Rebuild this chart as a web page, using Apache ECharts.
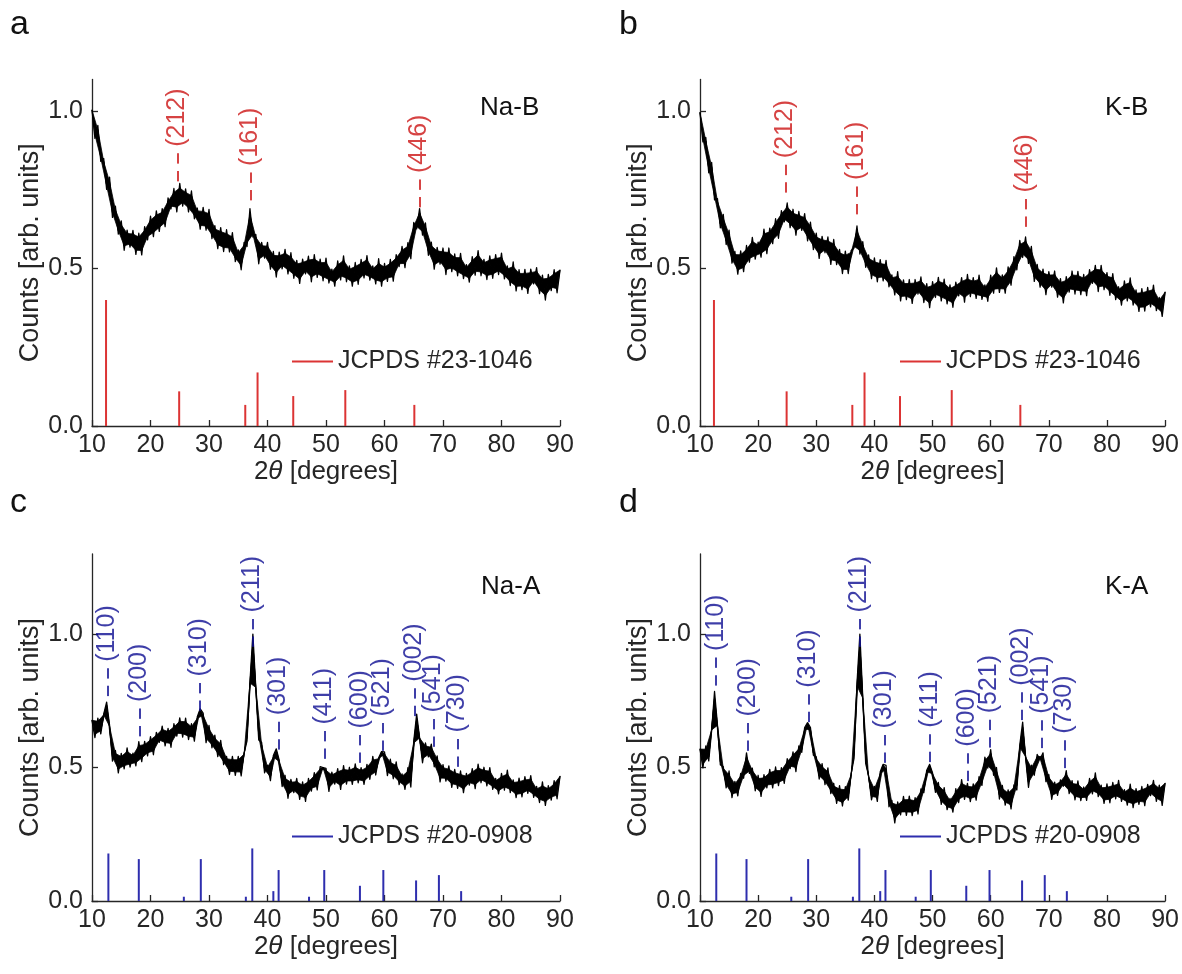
<!DOCTYPE html>
<html><head><meta charset="utf-8">
<script src="https://cdn.jsdelivr.net/npm/echarts@6/dist/echarts.min.js"></script>
<style>html,body{margin:0;padding:0;background:#fff}#c{width:1182px;height:974px}</style>
</head><body><div id="c"></div>
<script>
// ---- DATA ----
const twoTheta = [10,10.5,11,11.5,12,12.5,13,13.5,14,14.5,15,15.5,16,16.5,17,17.5,18,18.5,19,19.5,
20,20.5,21,21.5,22,22.5,23,23.5,24,24.5,25,25.5,26,26.5,27,27.5,28,28.5,29,29.5,
30,30.5,31,31.5,32,32.5,33,33.5,34,34.5,35,35.5,36,36.5,37,37.5,38,38.5,39,39.5,
40,40.5,41,41.5,42,42.5,43,43.5,44,44.5,45,45.5,46,46.5,47,47.5,48,48.5,49,49.5,
50,50.5,51,51.5,52,52.5,53,53.5,54,54.5,55,55.5,56,56.5,57,57.5,58,58.5,59,59.5,
60,60.5,61,61.5,62,62.5,63,63.5,64,64.5,65,65.5,66,66.5,67,67.5,68,68.5,69,69.5,
70,70.5,71,71.5,72,72.5,73,73.5,74,74.5,75,75.5,76,76.5,77,77.5,78,78.5,79,79.5,
80,80.5,81,81.5,82,82.5,83,83.5,84,84.5,85,85.5,86,86.5,87,87.5,88,88.5,89,89.5,90];

const countsNaB = [1.003,0.913,0.954,0.840,0.849,0.751,0.790,0.662,0.698,0.609,
0.651,0.558,0.622,0.568,0.621,0.545,0.612,0.543,0.633,0.591,
0.666,0.601,0.683,0.618,0.690,0.633,0.724,0.689,0.754,0.680,
0.770,0.698,0.753,0.680,0.746,0.658,0.692,0.625,0.694,0.622,
0.688,0.595,0.636,0.563,0.630,0.554,0.623,0.553,0.614,0.522,
0.559,0.496,0.583,0.570,0.690,0.600,0.608,0.515,0.583,0.533,
0.583,0.498,0.554,0.473,0.552,0.499,0.561,0.483,0.550,0.469,
0.526,0.453,0.530,0.483,0.539,0.458,0.544,0.472,0.530,0.461,
0.533,0.454,0.498,0.444,0.524,0.464,0.540,0.458,0.508,0.444,
0.519,0.450,0.529,0.470,0.541,0.463,0.508,0.451,0.531,0.444,
0.516,0.459,0.529,0.460,0.544,0.506,0.570,0.503,0.582,0.531,
0.646,0.626,0.690,0.606,0.645,0.542,0.584,0.498,0.567,0.514,
0.565,0.481,0.565,0.490,0.546,0.477,0.548,0.468,0.512,0.457,
0.538,0.479,0.557,0.477,0.529,0.465,0.540,0.469,0.544,0.481,
0.549,0.467,0.508,0.446,0.521,0.429,0.496,0.433,0.497,0.421,
0.498,0.451,0.503,0.420,0.479,0.400,0.481,0.430,0.496,0.423,
0.495];

const countsKB = [0.995,0.902,0.916,0.804,0.837,0.718,0.722,0.629,0.672,0.576,
0.622,0.517,0.554,0.482,0.556,0.490,0.573,0.520,0.599,0.530,
0.584,0.536,0.625,0.547,0.628,0.579,0.658,0.596,0.684,0.648,
0.708,0.630,0.688,0.606,0.681,0.621,0.674,0.588,0.647,0.560,
0.612,0.532,0.602,0.550,0.600,0.513,0.592,0.512,0.561,0.484,
0.555,0.484,0.557,0.565,0.635,0.546,0.585,0.504,0.543,0.468,
0.534,0.458,0.528,0.461,0.526,0.442,0.480,0.416,0.490,0.397,
0.464,0.401,0.465,0.389,0.465,0.419,0.473,0.392,0.452,0.376,
0.458,0.408,0.472,0.397,0.466,0.388,0.448,0.377,0.457,0.413,
0.471,0.393,0.481,0.411,0.471,0.405,0.479,0.402,0.448,0.396,
0.479,0.422,0.502,0.424,0.480,0.422,0.505,0.447,0.538,0.496,
0.589,0.535,0.600,0.516,0.570,0.459,0.513,0.441,0.498,0.417,
0.490,0.441,0.492,0.409,0.468,0.391,0.474,0.425,0.492,0.419,
0.491,0.417,0.481,0.414,0.496,0.453,0.510,0.427,0.510,0.433,
0.487,0.415,0.484,0.401,0.442,0.384,0.461,0.397,0.470,0.384,
0.432,0.364,0.436,0.365,0.440,0.378,0.447,0.366,0.408,0.348,
0.425];

const countsNaA = [0.677,0.612,0.685,0.626,0.700,0.745,0.659,0.524,0.564,0.480,
0.553,0.495,0.574,0.502,0.554,0.506,0.597,0.522,0.598,0.544,
0.616,0.548,0.632,0.594,0.655,0.581,0.647,0.576,0.664,0.618,
0.686,0.614,0.685,0.605,0.664,0.599,0.690,0.720,0.704,0.593,
0.658,0.574,0.621,0.541,0.602,0.511,0.542,0.474,0.542,0.471,
0.542,0.469,0.554,0.600,0.820,1.000,0.800,0.603,0.594,0.480,
0.509,0.451,0.545,0.570,0.528,0.429,0.471,0.385,0.456,0.406,
0.459,0.381,0.446,0.373,0.459,0.412,0.481,0.416,0.503,0.500,
0.497,0.411,0.483,0.438,0.496,0.418,0.507,0.438,0.501,0.437,
0.514,0.443,0.500,0.437,0.512,0.456,0.542,0.472,0.537,0.560,
0.559,0.470,0.531,0.458,0.521,0.436,0.476,0.418,0.500,0.427,
0.598,0.700,0.611,0.518,0.592,0.540,0.588,0.503,0.544,0.446,
0.511,0.449,0.506,0.426,0.493,0.422,0.487,0.406,0.478,0.434,
0.496,0.421,0.513,0.443,0.501,0.431,0.500,0.418,0.459,0.401,
0.478,0.415,0.490,0.406,0.454,0.387,0.460,0.390,0.466,0.403,
0.470,0.388,0.429,0.369,0.446,0.358,0.432,0.378,0.451,0.383,
0.467];

const countsKA = [0.569,0.499,0.581,0.525,0.638,0.785,0.660,0.510,0.504,0.424,
0.487,0.387,0.448,0.394,0.478,0.460,0.555,0.478,0.498,0.413,
0.471,0.392,0.473,0.424,0.493,0.424,0.502,0.432,0.500,0.441,
0.533,0.496,0.559,0.485,0.581,0.557,0.650,0.668,0.650,0.546,
0.540,0.457,0.515,0.436,0.499,0.402,0.441,0.366,0.432,0.356,
0.428,0.378,0.477,0.535,0.815,1.000,0.760,0.515,0.470,0.379,
0.429,0.373,0.484,0.512,0.508,0.353,0.377,0.293,0.371,0.323,
0.392,0.321,0.393,0.320,0.387,0.326,0.420,0.406,0.490,0.512,
0.480,0.407,0.444,0.362,0.425,0.342,0.384,0.333,0.421,0.369,
0.455,0.381,0.441,0.372,0.439,0.378,0.466,0.433,0.539,0.498,
0.567,0.471,0.500,0.382,0.433,0.359,0.416,0.345,0.435,0.416,
0.583,0.670,0.539,0.426,0.509,0.471,0.549,0.530,0.555,0.447,
0.474,0.381,0.445,0.396,0.454,0.430,0.488,0.402,0.451,0.379,
0.450,0.376,0.427,0.377,0.459,0.401,0.480,0.391,0.434,0.366,
0.439,0.368,0.444,0.383,0.452,0.373,0.417,0.359,0.438,0.350,
0.421,0.362,0.429,0.357,0.437,0.395,0.452,0.373,0.434,0.358,
0.441];

// reference patterns (stick lines)
const refBName = 'JCPDS #23-1046';
const refBPos = [12.4, 24.9, 36.2, 38.3, 44.4, 53.3, 65.1];
const refBInt = [0.40, 0.11, 0.067, 0.17, 0.095, 0.114, 0.067];
const refAName = 'JCPDS #20-0908';
const refAPos = [12.8, 18.0, 25.7, 28.6, 36.3, 37.4, 41.0, 41.9, 47.1, 49.7, 55.8, 59.8, 65.4, 69.3, 73.1];
const refAInt = [0.178, 0.157, 0.016, 0.157, 0.016, 0.197, 0.037, 0.116, 0.016, 0.116, 0.057, 0.116, 0.077, 0.097, 0.037];

// peak (hkl) annotations: label, angle, height where the annotation starts
const peakNamesB = ['(212)', '(161)', '(446)'];
const peakPosNaB = [24.6, 37.1, 66.0];
const peakYNaB   = [0.775, 0.714, 0.692];
const peakPosKB  = [24.7, 36.8, 66.0];
const peakYKB    = [0.739, 0.670, 0.630];
const peakNamesA = ['(110)', '(200)', '(310)', '(211)', '(301)', '(411)', '(600)', '(521)', '(002)', '(541)', '(730)'];
const peakPosNaA = [12.6, 18.0, 28.3, 37.35, 41.8, 49.7, 55.75, 59.6, 65.1, 68.3, 72.45];
const peakYNaA   = [0.765, 0.614, 0.710, 0.950, 0.565, 0.530, 0.515, 0.560, 0.690, 0.575, 0.500];
const peakPosKA  = [12.7, 18.2, 28.6, 37.3, 41.7, 49.5, 56.0, 59.8, 65.3, 68.7, 72.6];
const peakYKA    = [0.805, 0.560, 0.668, 0.950, 0.515, 0.518, 0.447, 0.572, 0.675, 0.570, 0.495];

const sampleNames = ['Na-B', 'K-B', 'Na-A', 'K-A'];
const panelLetters = ['a', 'b', 'c', 'd'];
const yMaxes = [1.1, 1.1, 1.3, 1.3];
const yTickValues = [0, 0.5, 1.0];
const xLabel = '2{i|θ} [degrees]';
const yLabel = 'Counts [arb. units]';

// ---- CHART ----
const AX = '#262626';
const FONT = '"Liberation Sans", Arial, Helvetica, sans-serif';
const RED = '#cc1414', RED_STICK = '#dc3434', BLUE = '#0e0e92', BLUE_STICK = '#2e2eae';
const CORE = 0.82; // how far each sample's vertex of the solid core reaches toward the sample

const panels = [
  {counts: countsNaB, refPos: refBPos, refInt: refBInt, refName: refBName, txt: RED, stick: RED_STICK, names: peakNamesB, pos: peakPosNaB, py: peakYNaB},
  {counts: countsKB, refPos: refBPos, refInt: refBInt, refName: refBName, txt: RED, stick: RED_STICK, names: peakNamesB, pos: peakPosKB, py: peakYKB},
  {counts: countsNaA, refPos: refAPos, refInt: refAInt, refName: refAName, txt: BLUE, stick: BLUE_STICK, names: peakNamesA, pos: peakPosNaA, py: peakYNaA},
  {counts: countsKA, refPos: refAPos, refInt: refAInt, refName: refAName, txt: BLUE, stick: BLUE_STICK, names: peakNamesA, pos: peakPosKA, py: peakYKA}
];

const grids = [
  {left: 92, top: 79.5, width: 468, height: 346.5},
  {left: 700, top: 79.5, width: 467, height: 346.5},
  {left: 92, top: 554, width: 468, height: 347},
  {left: 700, top: 554, width: 467, height: 347}
];
const letterPos = [[10, 8], [619, 8], [10, 486], [619, 486]];
const namePos = [[480, 95], [1105, 95], [481, 574], [1105, 574]];
const legendPos = [[292, 349], [900, 349], [292, 824], [900, 824]];

const option = {
  animation: false,
  backgroundColor: '#fff',
  textStyle: {fontFamily: FONT},
  grid: grids,
  xAxis: [], yAxis: [], series: [], legend: [], title: []
};

panels.forEach((p, k) => {
  option.xAxis.push({
    gridIndex: k, type: 'value', min: 10, max: 90, interval: 10,
    axisLine: {show: true, lineStyle: {color: AX, width: 1.3}},
    axisTick: {show: true, inside: true, length: 6, lineStyle: {color: AX, width: 1.3}},
    axisLabel: {fontSize: 25, color: AX, margin: 7, fontFamily: FONT},
    splitLine: {show: false},
    name: xLabel, nameLocation: 'middle', nameGap: 29,
    nameTextStyle: {fontSize: 26, color: AX, fontFamily: FONT,
      rich: {i: {fontSize: 26, color: AX, fontStyle: 'italic', fontFamily: FONT}}}
  });
  option.yAxis.push({
    gridIndex: k, type: 'value', min: 0, max: yMaxes[k],
    axisLine: {show: true, onZero: false, lineStyle: {color: AX, width: 1.3}},
    axisTick: {show: true, inside: true, length: 6, customValues: yTickValues, lineStyle: {color: AX, width: 1.3}},
    axisLabel: {show: true, customValues: yTickValues, formatter: v => Number(v).toFixed(1), fontSize: 25, color: AX, margin: 9, fontFamily: FONT},
    splitLine: {show: false},
    name: yLabel, nameLocation: 'middle', nameGap: 47,
    nameTextStyle: {fontSize: 27, color: AX, fontFamily: FONT}
  });
  const pts = twoTheta.map((x, i) => [x, p.counts[i]]);
  const n = pts.length;
  // dense noisy trace: solid core between consecutive samples, spikes from the line on top
  option.series.push({
    type: 'custom', xAxisIndex: k, yAxisIndex: k, silent: true, z: 3,
    data: pts,
    renderItem: (params, api) => {
      const i = params.dataIndex;
      if (i === 0 || i === n - 1) return {type: 'group', children: []};
      const P = j => api.coord(pts[j]);
      const S = j => {
        if (j <= 0 || j >= n - 1) return P(j);
        const a = P(j - 1), b = P(j), c = P(j + 1);
        const mx = (a[0] + c[0]) / 2, my = (a[1] + c[1]) / 2;
        return [mx + CORE * (b[0] - mx), my + CORE * (b[1] - my)];
      };
      return {type: 'polygon', shape: {points: [S(i - 1), S(i), S(i + 1)]},
              style: {fill: '#000', stroke: '#000', lineWidth: 0.8, lineJoin: 'round'}};
    }
  });
  option.series.push({
    type: 'line', xAxisIndex: k, yAxisIndex: k, silent: true,
    data: pts,
    showSymbol: false, symbol: 'none',
    lineStyle: {color: '#000', width: 1.3, join: 'round', cap: 'round'}, itemStyle: {color: '#000'}, z: 3
  });
  option.series.push({
    type: 'bar', name: p.refName, xAxisIndex: k, yAxisIndex: k, silent: true,
    data: p.refPos.map((x, i) => [x, p.refInt[i]]),
    barWidth: 2, itemStyle: {color: p.stick}, z: 2
  });
  option.series.push({
    type: 'scatter', xAxisIndex: k, yAxisIndex: k, silent: true,
    symbolSize: 0,
    data: p.pos.map((x, i) => [x, p.py[i], p.names[i]]),
    label: {
      show: true, position: 'inside', rotate: 90, align: 'left', verticalAlign: 'middle',
      formatter: q => '{d|– – }' + q.data[2],
      fontSize: 25, color: p.txt, fontFamily: FONT,
      rich: {d: {fontSize: 21, fontWeight: 'bold', color: p.txt, fontFamily: FONT}}
    },
    z: 4
  });
  option.legend.push({
    data: [p.refName], left: legendPos[k][0], top: legendPos[k][1],
    padding: 0, icon: 'rect', itemWidth: 41, itemHeight: 2, selectedMode: false,
    textStyle: {fontSize: 25, color: AX, fontFamily: FONT}
  });
  option.title.push({
    text: panelLetters[k], left: letterPos[k][0], top: letterPos[k][1], padding: 0,
    textStyle: {fontSize: 34, fontWeight: 'normal', color: '#111', fontFamily: FONT}
  });
  option.title.push({
    text: sampleNames[k], left: namePos[k][0], top: namePos[k][1], padding: 0,
    textStyle: {fontSize: 26, fontWeight: 'normal', color: '#111', fontFamily: FONT}
  });
});

const chart = echarts.init(document.getElementById('c'), null, {renderer: 'canvas'});
chart.setOption(option);
</script>
</body></html>
